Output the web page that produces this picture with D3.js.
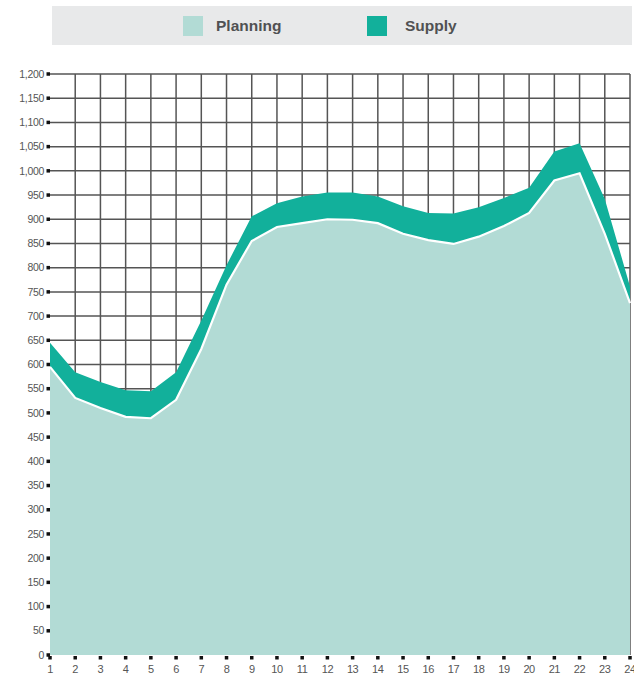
<!DOCTYPE html>
<html>
<head>
<meta charset="utf-8">
<script src="https://cdn.jsdelivr.net/npm/d3@7"></script>
<style>
  html, body { margin: 0; padding: 0; background: #ffffff; }
  svg { display: block; }
</style>
</head>
<body>
<svg id="chart" width="634" height="675"></svg>
<script>
// Hours of the day (x axis)
const hours = d3.range(1, 25);
// Planned load per hour
const planning = [595, 531, 510, 492, 489, 527, 632, 765, 855, 884, 892, 900,
                  899, 892, 870, 857, 849, 864, 886, 913, 980, 995, 870, 727];
// Supply stacked on top of planning
const supply   = [50, 53, 54, 55, 56, 57, 59, 40, 51, 49, 55, 55,
                  56, 55, 57, 56, 63, 61, 58, 52, 60, 62, 72, 34];
// Y tick values
const yTicks = d3.range(0, 1201, 50);
const seriesNames = ["Planning", "Supply"];
const colors = ["#b2dbd5", "#12b09b"];

const svg = d3.select("#chart");
const plotLeft = 50, plotRight = 630, plotTop = 74, plotBottom = 655;

const x = d3.scaleLinear().domain([1, 24]).range([plotLeft, plotRight]);
const y = d3.scaleLinear().domain([0, 1200]).range([plotBottom, plotTop]);

const rows = hours.map((h, i) => ({ hour: h, Planning: planning[i], Supply: supply[i] }));
const stacked = d3.stack().keys(seriesNames)(rows);

// Legend band
svg.append("rect").attr("x", 52).attr("y", 6).attr("width", 580).attr("height", 39)
  .attr("fill", "#e8e9ea");
const legendItems = [
  { name: "Planning", sx: 183, tx: 216 },
  { name: "Supply", sx: 367, tx: 405 }
];
legendItems.forEach((it, i) => {
  svg.append("rect").attr("x", it.sx).attr("y", 16).attr("width", 20).attr("height", 20)
    .attr("fill", colors[i]);
  svg.append("text").attr("x", it.tx).attr("y", 26).attr("dy", "0.35em")
    .attr("font-family", "Liberation Sans, Arial, sans-serif")
    .attr("font-size", 15.5).attr("font-weight", "bold").attr("fill", "#505153")
    .text(it.name);
});

// Grid
const grid = svg.append("g").attr("stroke", "#555555").attr("stroke-width", 1.5);
grid.selectAll("line.h").data(yTicks.filter(v => v > 0)).join("line")
  .attr("class", "h")
  .attr("x1", plotLeft).attr("x2", plotRight)
  .attr("y1", d => y(d)).attr("y2", d => y(d));
grid.selectAll("line.v").data(hours.filter(h => h > 1)).join("line")
  .attr("class", "v")
  .attr("x1", d => x(d)).attr("x2", d => x(d))
  .attr("y1", plotTop).attr("y2", plotBottom);

// Stacked areas
const area = d3.area().x(d => x(d.data.hour)).y0(d => y(d[0])).y1(d => y(d[1]));
svg.selectAll("path.layer").data(stacked).join("path")
  .attr("class", "layer")
  .attr("fill", (d, i) => colors[i])
  .attr("d", area);

// White separator along the planning edge
const line = d3.line().x(d => x(d.data.hour)).y(d => y(d[1]));
svg.append("path").datum(stacked[0]).attr("fill", "none")
  .attr("stroke", "#ffffff").attr("stroke-width", 2.2).attr("d", line);

// Y axis: square tick marks with labels
const fmt = d3.format(",");
const yAxis = svg.append("g");
yAxis.selectAll("rect").data(yTicks).join("rect")
  .attr("x", 46.5).attr("y", d => y(d) - 1.75).attr("width", 3.5).attr("height", 3.5)
  .attr("fill", "#111");
yAxis.selectAll("text").data(yTicks).join("text")
  .attr("x", 44).attr("y", d => y(d)).attr("dy", "0.35em")
  .attr("text-anchor", "end")
  .attr("font-family", "Liberation Sans, Arial, sans-serif")
  .attr("font-size", 10.5).attr("letter-spacing", -0.3).attr("fill", "#555")
  .text(d => fmt(d));

// X axis: square tick marks with hour labels
const xAxis = svg.append("g");
xAxis.selectAll("rect").data(hours).join("rect")
  .attr("x", d => x(d) - 1.75).attr("y", 656).attr("width", 3.5).attr("height", 3.5)
  .attr("fill", "#111");
xAxis.selectAll("text").data(hours).join("text")
  .attr("x", d => x(d)).attr("y", 673)
  .attr("text-anchor", "middle")
  .attr("font-family", "Liberation Sans, Arial, sans-serif")
  .attr("font-size", 11).attr("letter-spacing", -0.4).attr("fill", "#555")
  .text(d => d);
</script>
</body>
</html>
